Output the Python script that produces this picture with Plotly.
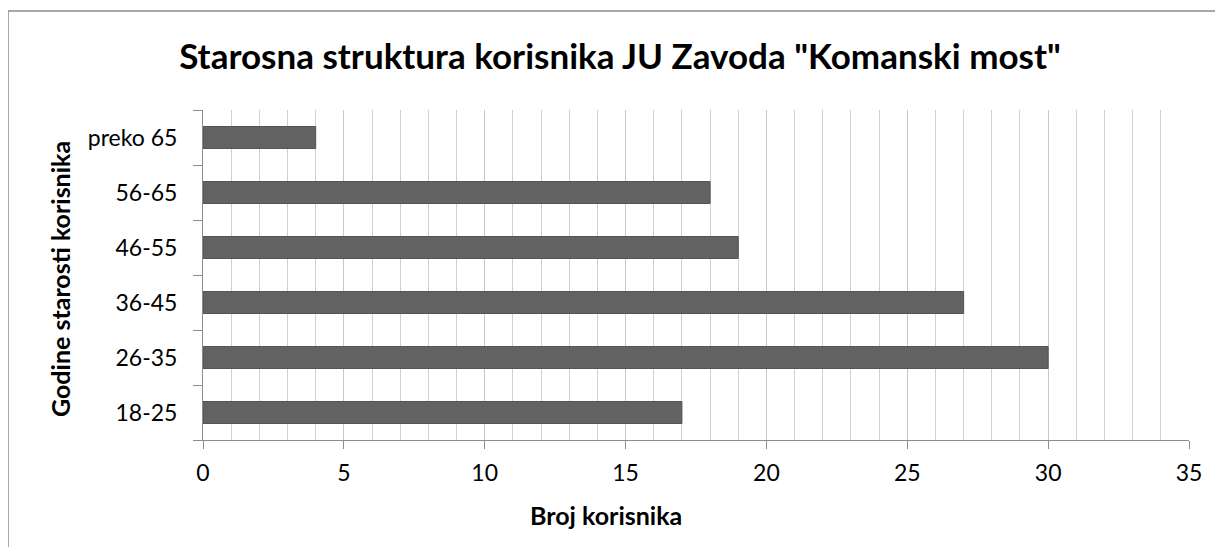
import plotly.graph_objects as go

categories = ["18-25", "26-35", "36-45", "46-55", "56-65", "preko 65"]
values = [17, 30, 27, 19, 18, 4]
x_ticks = [0, 5, 10, 15, 20, 25, 30, 35]

# page has an 8px body margin; work in page coordinates and shift
OFF = 8
W, H = 1223 - 2 * OFF, 555 - 2 * OFF
L, R, T, B = 203 - OFF, 1189 - OFF, 110 - OFF, 440 - OFF
pw, ph = R - L, B - T

FONT = "Lato, Open Sans, sans-serif"


def px(x):
    return (x - OFF - L) / pw


def py(y):
    return (B - (y - OFF)) / ph


fig = go.Figure(go.Bar(
    x=values, y=categories, orientation="h",
    marker=dict(color="#626262", line=dict(color="#555555", width=1)),
    width=0.4,
))

fig.update_layout(
    width=W, height=H,
    margin=dict(l=L, r=W - R, t=T, b=H - B, pad=0),
    paper_bgcolor="white", plot_bgcolor="white",
    showlegend=False,
    title=dict(text='Starosna struktura korisnika JU Zavoda "Komanski most"',
               x=(620 - OFF) / W, xanchor="center", y=1 - (57 - OFF) / H, yanchor="middle",
               font=dict(family=FONT, size=35, color="black", weight="bold")),
    font=dict(family=FONT, color="black"),
    xaxis=dict(
        range=[0, 35], tickvals=x_ticks, ticktext=[str(v) for v in x_ticks],
        showgrid=True, gridcolor="#c8c8c8", gridwidth=1,
        minor=dict(dtick=1, showgrid=True, gridcolor="#d0d0d0", gridwidth=1),
        ticks="outside", ticklen=8, tickcolor="#8c8c8c",
        showline=True, linecolor="#8c8c8c", linewidth=1,
        zeroline=False,
        tickfont=dict(size=23, family=FONT),
        ticklabelstandoff=4,
    ),
    yaxis=dict(
        categoryorder="array", categoryarray=categories,
        tickson="boundaries", ticks="outside", ticklen=9, tickcolor="#8c8c8c",
        showline=True, linecolor="#8c8c8c", linewidth=1,
        showgrid=False,
        tickfont=dict(size=23, family=FONT),
        ticklabelstandoff=20,
    ),
    annotations=[
        dict(text="<b>Broj korisnika</b>", xref="paper", yref="paper",
             x=px(606), y=py(515), xanchor="center", yanchor="middle",
             showarrow=False, font=dict(size=25, family=FONT, color="black")),
        dict(text="<b>Godine starosti korisnika</b>", xref="paper", yref="paper",
             x=px(60), y=py(279), xanchor="center", yanchor="middle", textangle=-90,
             showarrow=False, font=dict(size=25, family=FONT, color="black")),
    ],
    shapes=[dict(type="rect", xref="paper", yref="paper",
                 x0=px(8), x1=px(1240), y0=py(570), y1=py(11),
                 line=dict(color="#8c8c8c", width=1.5), fillcolor="rgba(0,0,0,0)")],
)

fig.write_html("out.html")
